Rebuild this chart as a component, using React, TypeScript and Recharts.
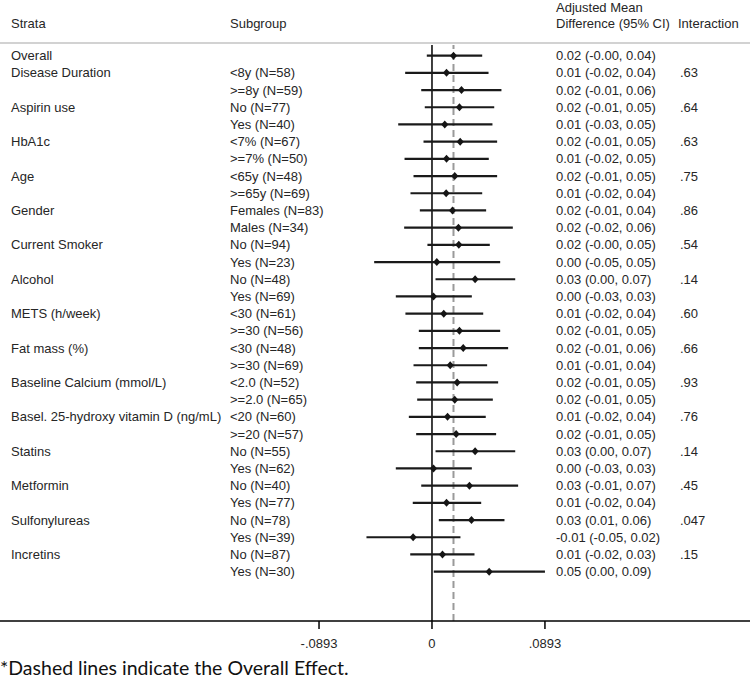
import React from 'react'
import {
  ScatterChart, Scatter, XAxis, YAxis, ErrorBar, ReferenceLine,
} from 'recharts'

// strata / subgroup labels as printed
const strataNames = [
  'Overall', 'Disease Duration', 'Aspirin use', 'HbA1c', 'Age', 'Gender',
  'Current Smoker', 'Alcohol', 'METS (h/week)', 'Fat mass (%)',
  'Baseline Calcium (mmol/L)', 'Basel. 25-hydroxy vitamin D (ng/mL)',
  'Statins', 'Metformin', 'Sulfonylureas', 'Incretins',
]
const subgroupLabels = [
  [''],
  ['<8y (N=58)', '>=8y (N=59)'],
  ['No (N=77)', 'Yes (N=40)'],
  ['<7% (N=67)', '>=7% (N=50)'],
  ['<65y (N=48)', '>=65y (N=69)'],
  ['Females (N=83)', 'Males (N=34)'],
  ['No (N=94)', 'Yes (N=23)'],
  ['No (N=48)', 'Yes (N=69)'],
  ['<30 (N=61)', '>=30 (N=56)'],
  ['<30 (N=48)', '>=30 (N=69)'],
  ['<2.0 (N=52)', '>=2.0 (N=65)'],
  ['<20 (N=60)', '>=20 (N=57)'],
  ['No (N=55)', 'Yes (N=62)'],
  ['No (N=40)', 'Yes (N=77)'],
  ['No (N=78)', 'Yes (N=39)'],
  ['No (N=87)', 'Yes (N=30)'],
]
const interactionP = ['', '.63', '.64', '.63', '.75', '.86', '.54', '.14', '.60', '.66', '.93', '.76', '.14', '.45', '.047', '.15']

// one value per row (31 rows)
const estimates = [
  0.0170, 0.0115, 0.0233, 0.0217, 0.0101, 0.0223, 0.0115, 0.0180, 0.0112, 0.0162,
  0.0209, 0.0212, 0.0038, 0.0341, 0.0012, 0.0093, 0.0217, 0.0247, 0.0144, 0.0199,
  0.0180, 0.0123, 0.0191, 0.0341, 0.0012, 0.0296, 0.0115, 0.0312, -0.0149, 0.0083,
  0.0452,
]
const lowerCI = [
  -0.0041, -0.0212, -0.0085, -0.0057, -0.0267, -0.0067, -0.0217, -0.0146, -0.0170, -0.0096,
  -0.0220, -0.0036, -0.0457, 0.0028, -0.0286, -0.0210, -0.0104, -0.0104, -0.0146, -0.0125,
  -0.0117, -0.0183, -0.0125, 0.0028, -0.0286, -0.0085, -0.0152, 0.0054, -0.0518, -0.0172,
  0.0014,
]
const upperCI = [
  0.0397, 0.0447, 0.0549, 0.0492, 0.0478, 0.0515, 0.0449, 0.0515, 0.0397, 0.0428,
  0.0639, 0.0457, 0.0539, 0.0658, 0.0315, 0.0405, 0.0539, 0.0602, 0.0436, 0.0523,
  0.0481, 0.0425, 0.0507, 0.0658, 0.0315, 0.0681, 0.0389, 0.0573, 0.0225, 0.0336,
  0.0893,
]
const ciText = [
  '0.02 (-0.00, 0.04)', '0.01 (-0.02, 0.04)', '0.02 (-0.01, 0.06)', '0.02 (-0.01, 0.05)',
  '0.01 (-0.03, 0.05)', '0.02 (-0.01, 0.05)', '0.01 (-0.02, 0.05)', '0.02 (-0.01, 0.05)',
  '0.01 (-0.02, 0.04)', '0.02 (-0.01, 0.04)', '0.02 (-0.02, 0.06)', '0.02 (-0.00, 0.05)',
  '0.00 (-0.05, 0.05)', '0.03 (0.00, 0.07)', '0.00 (-0.03, 0.03)', '0.01 (-0.02, 0.04)',
  '0.02 (-0.01, 0.05)', '0.02 (-0.01, 0.06)', '0.01 (-0.01, 0.04)', '0.02 (-0.01, 0.05)',
  '0.02 (-0.01, 0.05)', '0.01 (-0.02, 0.04)', '0.02 (-0.01, 0.05)', '0.03 (0.00, 0.07)',
  '0.00 (-0.03, 0.03)', '0.03 (-0.01, 0.07)', '0.01 (-0.02, 0.04)', '0.03 (0.01, 0.06)',
  '-0.01 (-0.05, 0.02)', '0.01 (-0.02, 0.03)', '0.05 (0.00, 0.09)',
]
const xTicks = [-0.0893, 0, 0.0893]

const FONT = '"Liberation Sans", Arial, sans-serif'
const TXT = '#262626'
const FS = 13

// flatten into rows
const rows: { row: number; strata: string; sub: string; p: string }[] = []
strataNames.forEach((s, i) => {
  subgroupLabels[i].forEach((sub, j) => {
    rows.push({ row: rows.length, strata: j === 0 ? s : '', sub, p: j === 0 ? interactionP[i] : '' })
  })
})
const data = rows.map((r, i) => ({
  ...r,
  est: estimates[i],
  err: [estimates[i] - lowerCI[i], upperCI[i] - estimates[i]],
  ci: ciText[i],
}))

// marker + the row's table text (text columns sit at fixed page columns)
const RowMark = (props: any) => {
  const { cx, cy, payload } = props
  const common = { y: cy, dominantBaseline: 'central', fontSize: FS, fill: TXT, fontFamily: FONT } as any
  return (
    <g>
      <text x={11} {...common}>{payload.strata}</text>
      <text x={230} {...common}>{payload.sub}</text>
      <text x={556} {...common}>{payload.ci}</text>
      <text x={680} {...common}>{payload.p}</text>
      <path d={`M${cx},${cy - 4} L${cx + 3.6},${cy} L${cx},${cy + 4} L${cx - 3.6},${cy} Z`} fill="#151515" />
    </g>
  )
}

const fmtTick = (v: number) => (v === 0 ? '0' : v.toFixed(4).replace('0.', '.'))

export default function App() {
  const head = { position: 'absolute', fontFamily: FONT, fontSize: FS, color: TXT, lineHeight: '15px', whiteSpace: 'nowrap' } as React.CSSProperties
  return (
    <div style={{ position: 'absolute', left: 0, top: 0, width: 750, height: 680, background: '#fff' }}>
      <div style={{ ...head, left: 11, top: 16 }}>Strata</div>
      <div style={{ ...head, left: 230, top: 16 }}>Subgroup</div>
      <div style={{ ...head, left: 556, top: 0 }}>Adjusted Mean</div>
      <div style={{ ...head, left: 556, top: 16 }}>Difference (95% CI)</div>
      <div style={{ ...head, left: 678, top: 16 }}>Interaction</div>
      <div style={{ position: 'absolute', left: 0, top: 42, width: 750, height: 2, background: '#d2d2d2' }} />

      <ScatterChart width={750} height={680} margin={{ top: 45, right: 0, bottom: 29, left: 0 }}>
        <XAxis
          type="number" dataKey="est" domain={[-0.3415, 0.2514]} ticks={xTicks}
          allowDataOverflow interval={0} height={30} tickSize={8} tickMargin={10}
          tickFormatter={fmtTick}
          axisLine={{ stroke: '#000', strokeWidth: 1.5 }}
          tickLine={{ stroke: '#000', strokeWidth: 1.5 }}
          tick={{ fontSize: FS, fill: TXT, fontFamily: FONT }}
        />
        <YAxis
          type="number" dataKey="row" domain={[-0.62, 32.87]} reversed
          width={0} axisLine={false} tickLine={false} tick={false}
        />
        <ReferenceLine x={0} stroke="#000" strokeWidth={1.5} />
        <ReferenceLine x={estimates[0]} stroke="#9a9a9a" strokeWidth={2} strokeDasharray="7 4" />
        <Scatter data={data} shape={<RowMark />} isAnimationActive={false}>
          <ErrorBar dataKey="err" direction="x" width={0} stroke="#1a1a1a" strokeWidth={2.2} isAnimationActive={false} />
        </Scatter>
      </ScatterChart>

      <div style={{ position: 'absolute', left: 0, top: 656, fontFamily: 'Lato, "Open Sans", sans-serif', fontSize: 19.5, lineHeight: '24px', color: '#111', whiteSpace: 'nowrap' }}>
        *Dashed lines indicate the Overall Effect.
      </div>
    </div>
  )
}
